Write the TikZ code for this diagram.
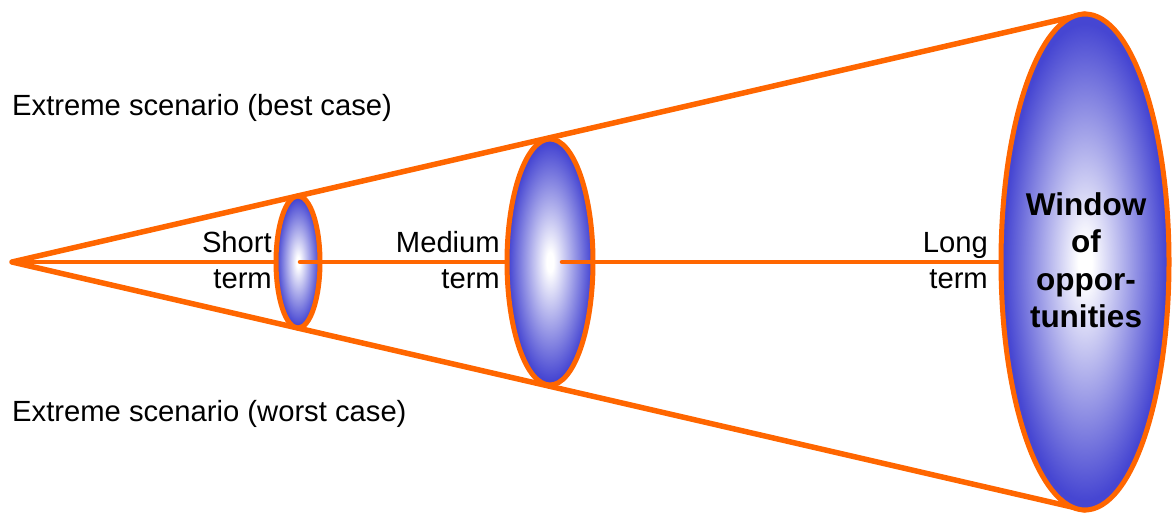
\documentclass[tikz,border=0pt]{standalone}
\usepackage{fontspec}
\setmainfont{Liberation Sans}
\usetikzlibrary{shapes.geometric}
\definecolor{conorange}{RGB}{255,102,0}
\definecolor{winblue}{RGB}{70,70,210}
\pgfdeclareradialshading{winshade}{\pgfpoint{0bp}{0bp}}{color(0bp)=(white);color(2bp)=(white);color(24bp)=(winblue);color(50bp)=(winblue)}
\tikzset{
  cone/.style={draw=conorange, line width=5.5pt, line cap=round, line join=round},
  axisline/.style={draw=conorange, line width=4.5pt, line cap=round},
  lens/.style={ellipse, draw=conorange, line width=5pt, shading=winshade, inner sep=0pt, outer sep=0pt},
  lbl/.style={font=\fontsize{29.2}{34}\selectfont, inner sep=0pt},
  wlbl/.style={font=\fontsize{31.5}{36}\selectfont\bfseries, inner sep=0pt, anchor=base},
}
\begin{document}
\begin{tikzpicture}[x=1pt,y=-1pt]
\useasboundingbox (0,0) rectangle (1172,513);
\coordinate (apex) at (12,262);
\coordinate (ltop) at (1085,14);
\coordinate (lbot) at (1085,510);
\draw[cone] (ltop) -- (apex) -- (lbot);
% short term
\coordinate (sleft) at (276,262);
\draw[axisline] (apex) -- (sleft);
\node[lens, minimum width=44pt, minimum height=132pt] (small) at (298,262) {};
\coordinate (sc) at (300,262);
\coordinate (mleft) at (508,262);
\draw[axisline] (sc) -- (mleft);
\node[lens, minimum width=86pt, minimum height=246pt] (medium) at (550,262) {};
\coordinate (mc) at (562,262);
\coordinate (lleft) at (1002,262);
\draw[axisline] (mc) -- (lleft);
\node[lens, minimum width=168pt, minimum height=496pt] (large) at (1085,262) {};
% labels
\node[lbl, anchor=base west] (best) at (12,116) {Extreme scenario (best case)};
\node[lbl, anchor=base west] (worst) at (12,421) {Extreme scenario (worst case)};
\node[lbl, anchor=base east] (short1) at (272,252) {Short};
\node[lbl, anchor=base east] (short2) at (272,288) {term};
\node[lbl, anchor=base east] (med1) at (500,252) {Medium};
\node[lbl, anchor=base east] (med2) at (500,288) {term};
\node[lbl, anchor=base east] (long1) at (988,252) {Long};
\node[lbl, anchor=base east] (long2) at (988,288) {term};
\node[wlbl] (w1) at (1086,215) {Window};
\node[wlbl] (w2) at (1086,252) {of};
\node[wlbl] (w3) at (1086,290) {oppor-};
\node[wlbl] (w4) at (1086,327) {tunities};
\end{tikzpicture}
\end{document}
